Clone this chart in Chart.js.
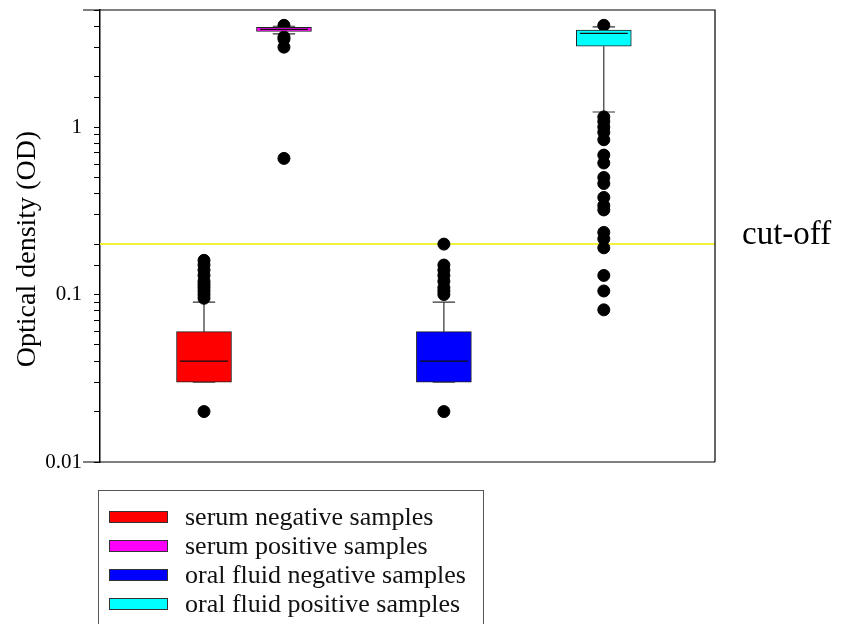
<!DOCTYPE html>
<html>
<head>
<meta charset="utf-8">
<script src="https://cdn.jsdelivr.net/npm/chart.js@4/dist/chart.umd.min.js"></script>
<style>
  html, body { margin: 0; padding: 0; background: #fff; }
  #wrap { position: relative; width: 846px; height: 624px; overflow: hidden; }
  #legend {
    position: absolute; left: 98px; top: 490px; width: 386px; height: 160px;
    border: 1px solid #555; box-sizing: border-box; padding: 11px 0 0 10px;
    font-family: "Liberation Serif", "Times New Roman", serif; font-size: 26px; color: #111;
  }
  .row { height: 29px; display: flex; align-items: center; }
  .sw { width: 57px; height: 10px; border: 1px solid #333; margin-right: 17px; }
</style>
</head>
<body>
<div id="wrap">
  <canvas id="chart" width="846" height="624"></canvas>
  <div id="legend"></div>
</div>
<script>
const groups = ['serum negative samples', 'serum positive samples', 'oral fluid negative samples', 'oral fluid positive samples']
const colors = ['#ff0000', '#ff00ff', '#0000ff', '#00ffff']
const xPos = [1, 2, 4, 6]

const whiskerLow = [0.03, 3.6, 0.03, 1.23]
const q1 = [0.03, 3.72, 0.03, 3.04]
const median = [0.04, 3.83, 0.04, 3.63]
const q3 = [0.06, 3.94, 0.06, 3.79]
const whiskerHigh = [0.09, 4.0, 0.09, 3.97]

const outliers = [
  [0.02, 0.095, 0.1, 0.105, 0.11, 0.115, 0.12, 0.13, 0.14, 0.15, 0.16],
  [4.05, 3.45, 3.35, 3.0, 0.65],
  [0.02, 0.1, 0.105, 0.11, 0.12, 0.13, 0.14, 0.15, 0.2],
  [4.05, 1.15, 1.08, 1.0, 0.93, 0.84, 0.68, 0.61, 0.5, 0.46, 0.38, 0.34, 0.32, 0.235, 0.215, 0.19, 0.13, 0.105, 0.081]
]

const cutoff = 0.2
const tickLabels = ['0.01', '0.1', '1']

const serif = '"Liberation Serif", "Times New Roman", serif'

const datasets = groups.map((name, i) => ({
  type: 'bar',
  label: name,
  data: [{ x: xPos[i], y: [q1[i], q3[i]] }],
  backgroundColor: colors[i],
  borderColor: '#222',
  borderWidth: 1,
  borderSkipped: false,
  barThickness: 55,
  grouped: false
}))

datasets.push({
  type: 'scatter',
  label: 'outliers',
  data: outliers.flatMap((vals, i) => vals.map(v => ({ x: xPos[i], y: v }))),
  backgroundColor: '#000',
  borderColor: '#000',
  pointRadius: 6,
  pointHoverRadius: 6
})

const boxExtras = {
  id: 'boxExtras',
  beforeDatasetsDraw(chart) {
    const { ctx, chartArea, scales: { x, y } } = chart
    ctx.save()
    // cut-off line
    const cy = y.getPixelForValue(cutoff)
    ctx.strokeStyle = '#f2f23c'
    ctx.lineWidth = 2
    ctx.beginPath()
    ctx.moveTo(chartArea.left, cy)
    ctx.lineTo(chartArea.right, cy)
    ctx.stroke()

    // whiskers and caps
    ctx.strokeStyle = '#333'
    ctx.lineWidth = 1.2
    groups.forEach((g, i) => {
      const cx = x.getPixelForValue(xPos[i])
      const half = x.getPixelForValue(xPos[i] + 0.14) - cx
      const pairs = [[q3[i], whiskerHigh[i]], [q1[i], whiskerLow[i]]]
      pairs.forEach(([from, to]) => {
        const a = y.getPixelForValue(from)
        const b = y.getPixelForValue(to)
        ctx.beginPath()
        ctx.moveTo(cx, a)
        ctx.lineTo(cx, b)
        ctx.moveTo(cx - half, b)
        ctx.lineTo(cx + half, b)
        ctx.stroke()
      })
    })
    ctx.restore()
  },
  afterDatasetsDraw(chart) {
    const { ctx, chartArea, scales: { x, y } } = chart
    ctx.save()
    // medians
    ctx.strokeStyle = '#111'
    ctx.lineWidth = 1.2
    groups.forEach((g, i) => {
      const cx = x.getPixelForValue(xPos[i])
      const half = x.getPixelForValue(xPos[i] + 0.3) - cx
      const my = y.getPixelForValue(median[i])
      ctx.beginPath()
      ctx.moveTo(cx - half, my)
      ctx.lineTo(cx + half, my)
      ctx.stroke()
    })

    // frame
    ctx.strokeStyle = '#000'
    ctx.lineWidth = 1.2
    ctx.beginPath()
    ctx.moveTo(chartArea.left - 17, chartArea.top)
    ctx.lineTo(chartArea.right, chartArea.top)
    ctx.lineTo(chartArea.right, chartArea.bottom)
    ctx.moveTo(chartArea.left - 17, chartArea.bottom)
    ctx.lineTo(chartArea.right, chartArea.bottom)
    ctx.stroke()

    // labels
    ctx.fillStyle = '#000'
    ctx.font = '33px ' + serif
    ctx.textAlign = 'left'
    ctx.textBaseline = 'alphabetic'
    ctx.fillText('cut-off', chartArea.right + 27, y.getPixelForValue(cutoff))

    ctx.translate(28, 249)
    ctx.rotate(-Math.PI / 2)
    ctx.font = '28px ' + serif
    ctx.textAlign = 'center'
    ctx.textBaseline = 'middle'
    ctx.fillText('Optical density (OD)', 0, 0)
    ctx.restore()
  }
}

const chart = new Chart(document.getElementById('chart'), {
  type: 'bar',
  data: { datasets },
  options: {
    responsive: false,
    animation: false,
    events: [],
    layout: { padding: { top: 10, right: 131, bottom: 162, left: 0 } },
    plugins: {
      legend: { display: false },
      tooltip: { enabled: false }
    },
    scales: {
      x: {
        type: 'linear',
        min: 0.18,
        max: 6.91,
        display: false
      },
      y: {
        type: 'logarithmic',
        min: 0.01,
        max: 5,
        afterFit(scale) {
          scale.width = 100
          scale.paddingTop = 0
          scale.paddingBottom = 0
        },
        border: { display: true, color: '#000', width: 1.5 },
        grid: {
          drawOnChartArea: false,
          drawTicks: true,
          tickLength: 6,
          color: '#000'
        },
        ticks: {
          autoSkip: false,
          padding: 12,
          color: '#000',
          font: { family: serif, size: 21, lineHeight: 1 },
          callback(value) {
            const hit = tickLabels.find(t => Math.abs(Number(t) - value) < Number(t) * 1e-6)
            return hit || ''
          }
        }
      }
    }
  },
  plugins: [boxExtras]
})

const legend = document.getElementById('legend')
groups.forEach((name, i) => {
  const row = document.createElement('div')
  row.className = 'row'
  const sw = document.createElement('span')
  sw.className = 'sw'
  sw.style.background = colors[i]
  row.appendChild(sw)
  row.appendChild(document.createTextNode(name))
  legend.appendChild(row)
})
</script>
</body>
</html>
